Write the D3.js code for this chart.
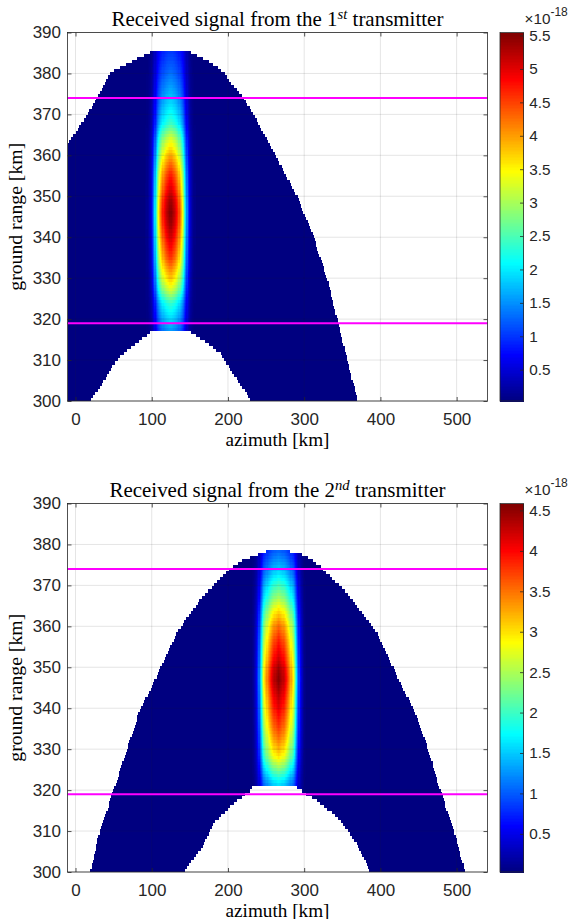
<!DOCTYPE html>
<html>
<head>
<meta charset="utf-8">
<script src="https://cdn.jsdelivr.net/npm/d3@7"></script>
<style>
  body { margin: 0; background: #fff; }
</style>
</head>
<body>
<div id="chart"></div>
<script>
(function () {

  'use strict';

  const WIDTH = 571;
  const HEIGHT = 919;
  const SANS = 'Liberation Sans, Arial, Helvetica, sans-serif';
  const SERIF = 'Liberation Serif, DejaVu Serif, serif';
  const AXIS_COLOR = '#262626';

  // Axis ticks and limits.
  const azTicks = [0, 100, 200, 300, 400, 500];
  const rangeTicks = [300, 310, 320, 330, 340, 350, 360, 370, 380, 390];
  const azDomain = [-10.5, 540.5];
  const rangeDomain = [300, 390];
  const magentaLines = [374, 319];

  // 1st transmitter: footprint edges [azimuth km, ground range km].
  const outer1 = [[-10.5, 362.9], [15.7, 370], [28, 374], [45, 380], [69.5, 382.4],
    [85, 384], [100, 385.3], [149, 385.3], [163, 384], [185, 381.6], [194, 380],
    [220, 374], [233, 370], [262, 360], [277, 354.7], [293, 349], [312, 340],
    [329.5, 330], [343, 320], [356, 310], [370, 300]];
  const inner1 = [[18.4, 300], [32.4, 303.5], [49.8, 309.2], [67.4, 312.4],
    [89, 315.6], [100, 317.3], [148, 317.3], [168, 314.9], [190, 311.6],
    [207, 306.7], [231, 300]];
  // Signal along the beam centre [ground range km, value x1e-18].
  const rangeProfile1 = [[317, 1.5], [320, 1.9], [324, 2.4], [327, 3.2], [330, 3.8],
    [335, 4.6], [340, 5.1], [343, 5.4], [346, 5.545], [349, 5.4], [352, 5.05],
    [355.5, 4.7], [360, 4.0], [364, 3.3], [368, 2.4], [374, 1.8], [380, 1.35], [386, 1.0]];
  // Relative signal vs azimuth offset from the beam centre [km, ratio].
  const azProfile1 = [[0, 1], [6, 0.93], [10, 0.85], [13, 0.75], [16.6, 0.6],
    [19.7, 0.38], [22.7, 0.2], [26, 0.08], [30, 0.02], [34, 0]];
  const beamCenter1 = 124.5;
  const cLim1 = [0.032, 5.545];
  const cTicks1 = [0.5, 1, 1.5, 2, 2.5, 3, 3.5, 4, 4.5, 5, 5.5];

  // 2nd transmitter.
  const outer2 = [[19.3, 300], [32.4, 310.4], [50, 320.1], [67.4, 329.9], [85, 339.7],
    [98, 344.5], [133, 358.4], [163, 366.5], [203, 374.2], [218, 376], [236, 377.4],
    [252, 378.5], [277.5, 378.5], [300, 377.5], [320.7, 374.6], [355.7, 368.1],
    [395, 358.4], [430, 344.5], [443, 339.7], [460.5, 330.8], [478, 320.1],
    [495.4, 310.4], [510.7, 300]];
  const inner2 = [[141.6, 300], [163.4, 305.5], [181, 312], [207, 316.9], [229, 320.1],
    [231, 320.8], [289, 320.8], [294.5, 320.1], [316, 317.7], [347, 312.8],
    [369, 307.1], [387, 300]];
  const rangeProfile2 = [[320.5, 1.5], [322.6, 1.8], [325, 2.3], [328.3, 3.0],
    [331.5, 3.4], [335.6, 3.8], [339.7, 4.1], [344, 4.4], [347, 4.586], [349.4, 4.5],
    [352.7, 4.2], [356.7, 3.9], [360.8, 3.5], [364, 3.0], [366.9, 2.5], [370.6, 2.0],
    [374, 1.5], [379, 1.0]];
  const azProfile2 = [[0, 1], [7, 0.93], [11, 0.85], [14, 0.78], [19.7, 0.62],
    [22.7, 0.42], [26, 0.22], [29, 0.1], [33, 0.03], [37, 0]];
  const beamCenter2 = 266.5;
  const cLim2 = [0.028, 4.586];
  const cTicks2 = [0.5, 1, 1.5, 2, 2.5, 3, 3.5, 4, 4.5];

  // Grid resolution of the image (km).
  const AZ_STEP = 1.5;
  const RANGE_STEP = 0.75;
  const LEVELS = 256;

  const panels = [
    {top: 32.5, ord: '1', sup: 'st', outer: outer1, inner: inner1,
      rangeProfile: rangeProfile1, azProfile: azProfile1, center: beamCenter1,
      cLim: cLim1, cTicks: cTicks1},
    {top: 503.5, ord: '2', sup: 'nd', outer: outer2, inner: inner2,
      rangeProfile: rangeProfile2, azProfile: azProfile2, center: beamCenter2,
      cLim: cLim2, cTicks: cTicks2}
  ];

  const margin = {left: 67.5, right: 487.5};
  const plotHeight = 368.5;
  const cbar = {left: 500, right: 523.5};

  // MATLAB jet colormap.
  let jet = function (t) {
    let c = function (v) { return Math.round(255 * Math.max(0, Math.min(1, v))); };
    let r = c(Math.min(4 * t - 1.5, -4 * t + 4.5));
    let g = c(Math.min(4 * t - 0.5, -4 * t + 3.5));
    let b = c(Math.min(4 * t + 0.5, -4 * t + 2.5));
    return 'rgb(' + r + ',' + g + ',' + b + ')';
  };
  let palette = d3.range(LEVELS).map(i => jet(i / (LEVELS - 1)));

  let svg = d3.select('#chart')
    .append('svg')
    .attr('width', WIDTH)
    .attr('height', HEIGHT)
    .attr('viewBox', '0 0 ' + WIDTH + ' ' + HEIGHT);

  let fitText = function (sel, target) {
    let len = sel.node().getComputedTextLength();
    let size = parseFloat(sel.attr('font-size'));
    sel.attr('font-size', (size * target / len).toFixed(2));
  };

  let drawPanel = function (p, k) {
    let top = p.top;
    let bottom = top + plotHeight;

    let x = d3.scaleLinear().domain(azDomain).range([margin.left, margin.right]);
    let y = d3.scaleLinear().domain(rangeDomain).range([bottom, top]);

    let outerEdge = d3.scaleLinear()
      .domain(p.outer.map(d => d[0])).range(p.outer.map(d => d[1]));
    let innerEdge = d3.scaleLinear()
      .domain(p.inner.map(d => d[0])).range(p.inner.map(d => d[1]));
    let beamRange = d3.scaleLinear()
      .domain(p.rangeProfile.map(d => d[0])).range(p.rangeProfile.map(d => d[1]))
      .clamp(true);
    let beamAz = d3.scaleLinear()
      .domain(p.azProfile.map(d => d[0])).range(p.azProfile.map(d => d[1]))
      .clamp(true);
    let level = d3.scaleQuantize()
      .domain(p.cLim).range(d3.range(LEVELS));

    let outerMin = p.outer[0][0], outerMax = p.outer[p.outer.length - 1][0];
    let innerMin = p.inner[0][0], innerMax = p.inner[p.inner.length - 1][0];

    let nAz = Math.round((azDomain[1] - azDomain[0]) / AZ_STEP);
    let nRange = Math.round((rangeDomain[1] - rangeDomain[0]) / RANGE_STEP);

    // Build runs of equal colour per range row.
    let runs = [];
    for (let j = 0; j < nRange; j++) {
      let r0 = rangeDomain[0] + j * RANGE_STEP;
      let rc = r0 + RANGE_STEP / 2;
      let cur = null;
      for (let i = 0; i < nAz; i++) {
        let a0 = azDomain[0] + i * AZ_STEP;
        let ac = a0 + AZ_STEP / 2;
        let lev = -1;
        let inside = ac >= outerMin && ac <= outerMax && rc <= outerEdge(ac);
        let hole = ac > innerMin && ac < innerMax && rc < innerEdge(ac);
        if (inside && !hole) {
          let bg = p.cLim[0];
          let v = bg + (beamRange(rc) - bg) * beamAz(Math.abs(ac - p.center));
          lev = level(v);
        }
        if (cur && cur.lev === lev) {
          cur.a1 = a0 + AZ_STEP;
        }
        else {
          if (cur && cur.lev >= 0) runs.push(cur);
          cur = {lev: lev, a0: a0, a1: a0 + AZ_STEP, r0: r0, r1: r0 + RANGE_STEP};
        }
      }
      if (cur && cur.lev >= 0) runs.push(cur);
    }

    let g = svg.append('g').attr('class', 'panel');

    g.append('g')
      .attr('shape-rendering', 'crispEdges')
      .selectAll('rect')
      .data(runs)
      .enter()
      .append('rect')
      .attr('x', d => x(d.a0))
      .attr('y', d => y(d.r1))
      .attr('width', d => x(d.a1) - x(d.a0) + 0.4)
      .attr('height', d => y(d.r0) - y(d.r1) + 0.4)
      .attr('fill', d => palette[d.lev]);

    // Grid lines on top of the image.
    let grid = g.append('g')
      .attr('stroke', AXIS_COLOR)
      .attr('stroke-opacity', 0.15)
      .attr('stroke-width', 0.8);
    grid.selectAll('line.gx')
      .data(azTicks)
      .enter()
      .append('line')
      .attr('x1', d => x(d)).attr('x2', d => x(d))
      .attr('y1', top).attr('y2', bottom);
    grid.selectAll('line.gy')
      .data(rangeTicks)
      .enter()
      .append('line')
      .attr('x1', margin.left).attr('x2', margin.right)
      .attr('y1', d => y(d)).attr('y2', d => y(d));

    // Magenta lines.
    g.selectAll('line.mag')
      .data(magentaLines)
      .enter()
      .append('line')
      .attr('x1', margin.left).attr('x2', margin.right)
      .attr('y1', d => y(d)).attr('y2', d => y(d))
      .attr('stroke', '#ff00ff')
      .attr('stroke-width', 2);

    // Axes.
    let axisStyle = function (sel) {
      sel.select('.domain').remove();
      sel.selectAll('line').attr('stroke', AXIS_COLOR).attr('stroke-width', 0.8);
      sel.selectAll('text').attr('fill', AXIS_COLOR);
      sel.attr('font-family', SANS).attr('font-size', 17);
    };
    g.append('g')
      .attr('transform', 'translate(0,' + bottom + ')')
      .call(d3.axisBottom(x).tickValues(azTicks).tickSizeInner(-4).tickSizeOuter(0).tickPadding(12))
      .call(axisStyle);
    g.append('g')
      .attr('transform', 'translate(0,' + top + ')')
      .call(d3.axisTop(x).tickValues(azTicks).tickSizeInner(-4).tickSizeOuter(0).tickFormat(''))
      .call(axisStyle);
    g.append('g')
      .attr('transform', 'translate(' + margin.left + ',0)')
      .call(d3.axisLeft(y).tickValues(rangeTicks).tickSizeInner(-4).tickSizeOuter(0).tickPadding(6.5))
      .call(axisStyle);
    g.append('g')
      .attr('transform', 'translate(' + margin.right + ',0)')
      .call(d3.axisRight(y).tickValues(rangeTicks).tickSizeInner(-4).tickSizeOuter(0).tickFormat(''))
      .call(axisStyle);

    g.append('rect')
      .attr('x', margin.left).attr('y', top)
      .attr('width', margin.right - margin.left).attr('height', plotHeight)
      .attr('fill', 'none')
      .attr('stroke', AXIS_COLOR)
      .attr('stroke-width', 0.8);

    // Title.
    let cx = (margin.left + margin.right) / 2;
    let title = g.append('text')
      .attr('x', cx)
      .attr('y', top - 7)
      .attr('text-anchor', 'middle')
      .attr('font-family', SERIF)
      .attr('font-size', 18)
      .attr('fill', '#000');
    title.append('tspan').text('Received signal from the ' + p.ord);
    title.append('tspan')
      .attr('font-size', '70%')
      .attr('font-style', 'italic')
      .attr('dy', -7)
      .text(p.sup);
    title.append('tspan').attr('dy', 7).text(' transmitter');
    fitText(title, k === 0 ? 332 : 336);

    // Axis labels.
    let xl = g.append('text')
      .attr('x', cx)
      .attr('y', bottom + 44.5)
      .attr('text-anchor', 'middle')
      .attr('font-family', SERIF)
      .attr('font-size', 18)
      .text('azimuth [km]');
    fitText(xl, 104);

    let yl = g.append('text')
      .attr('transform', 'translate(22,' + (top + plotHeight / 2) + ') rotate(-90)')
      .attr('text-anchor', 'middle')
      .attr('font-family', SERIF)
      .attr('font-size', 18)
      .text('ground range [km]');
    fitText(yl, 148);

    // Colorbar.
    let cy = d3.scaleLinear().domain(p.cLim).range([bottom, top]);
    let step = (p.cLim[1] - p.cLim[0]) / LEVELS;
    g.append('g')
      .attr('shape-rendering', 'crispEdges')
      .selectAll('rect')
      .data(d3.range(LEVELS))
      .enter()
      .append('rect')
      .attr('x', cbar.left)
      .attr('width', cbar.right - cbar.left)
      .attr('y', d => cy(p.cLim[0] + (d + 1) * step))
      .attr('height', d => cy(p.cLim[0] + d * step) - cy(p.cLim[0] + (d + 1) * step) + 0.5)
      .attr('fill', d => palette[d]);

    g.append('g')
      .attr('transform', 'translate(' + cbar.right + ',0)')
      .call(d3.axisRight(cy).tickValues(p.cTicks).tickSizeInner(-3.5).tickSizeOuter(0)
        .tickPadding(5.8).tickFormat(d3.format('')))
      .call(axisStyle)
      .attr('font-size', 15.3);

    g.append('rect')
      .attr('x', cbar.left).attr('y', top)
      .attr('width', cbar.right - cbar.left).attr('height', plotHeight)
      .attr('fill', 'none')
      .attr('stroke', AXIS_COLOR)
      .attr('stroke-width', 0.8);

    let ex = g.append('text')
      .attr('x', 524.5)
      .attr('y', top - 9)
      .attr('font-family', SANS)
      .attr('font-size', 15.3)
      .attr('fill', AXIS_COLOR);
    ex.append('tspan').text('\u00d710');
    ex.append('tspan').attr('font-size', 12).attr('dy', -7.5).text('-18');
  };

  panels.forEach(drawPanel);

}());
</script>
</body>
</html>
